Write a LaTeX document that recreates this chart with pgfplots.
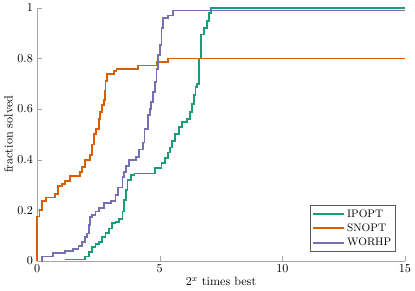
\documentclass[border=0pt]{standalone}
\usepackage{pgfplots}
\pgfplotsset{compat=1.18}
\definecolor{cIP}{HTML}{1B9E77}
\definecolor{cSN}{HTML}{D95F02}
\definecolor{cWO}{HTML}{7570B3}
\begin{document}
\begin{tikzpicture}
\begin{axis}[
  width=304pt, height=209pt, scale only axis,
  xmin=0, xmax=15, ymin=0, ymax=1,
  axis lines*=left,
  axis line style={gray!70},
  tick style={gray!70},
  tick align=inside,
  xtick={0,5,10,15}, ytick={0,0.2,0.4,0.6,0.8,1},
  xlabel={$2^x$ times best}, ylabel={fraction solved},
  xlabel style={yshift=3pt}, ylabel style={yshift=-3pt},
  clip=false,
  legend style={draw=gray!70!black, font=\small, inner sep=1.5pt, row sep=0pt, at={(0.975,0.035)}, anchor=south east},
  legend cell align=left,
  legend image code/.code={\draw[#1, line width=1.5pt] (0cm,0cm) -- (0.9cm,0cm);},
]
\addplot[cIP, const plot, line width=1.5pt] coordinates {
(1.13,0.005)(1.96,0.017)(2.1,0.035)(2.24,0.055)(2.38,0.068)(2.52,0.075)(2.65,0.095)(2.79,0.11)(2.93,0.128)(3.07,0.148)(3.2,0.155)(3.34,0.165)(3.48,0.195)(3.55,0.24)(3.62,0.28)(3.69,0.32)(3.83,0.34)(3.97,0.345)(4.8,0.368)(5.07,0.388)(5.21,0.408)(5.35,0.428)(5.42,0.448)(5.49,0.475)(5.63,0.50)(5.77,0.528)(5.9,0.548)(6.11,0.56)(6.25,0.588)(6.32,0.62)(6.39,0.655)(6.46,0.688)(6.53,0.70)(6.6,0.80)(6.67,0.895)(6.8,0.92)(6.94,0.948)(7.0,0.98)(7.08,1.0)(15,1.0)};
\addlegendentry{IPOPT}
\addplot[cSN, const plot, line width=1.5pt] coordinates {
(0,0)(0,0.175)(0.1,0.2)(0.19,0.235)(0.37,0.25)(0.72,0.265)(0.86,0.295)(1.0,0.305)(1.13,0.315)(1.34,0.335)(1.76,0.35)(1.82,0.37)(1.96,0.40)(2.17,0.42)(2.24,0.46)(2.32,0.50)(2.40,0.52)(2.52,0.56)(2.58,0.59)(2.63,0.615)(2.72,0.635)(2.76,0.67)(2.79,0.71)(2.86,0.74)(3.14,0.75)(3.24,0.76)(4.1,0.772)(4.9,0.785)(5.35,0.80)(15,0.80)};
\addlegendentry{SNOPT}
\addplot[cWO, const plot, line width=1.5pt] coordinates {
(0.14,0)(0.19,0.017)(0.65,0.03)(1.13,0.039)(1.48,0.048)(1.69,0.06)(1.82,0.075)(1.96,0.095)(2.03,0.108)(2.1,0.14)(2.17,0.172)(2.24,0.18)(2.38,0.195)(2.52,0.208)(2.72,0.228)(3.0,0.235)(3.2,0.26)(3.3,0.29)(3.48,0.33)(3.55,0.35)(3.62,0.376)(3.76,0.40)(4.04,0.41)(4.17,0.44)(4.31,0.468)(4.38,0.52)(4.52,0.575)(4.59,0.60)(4.66,0.628)(4.73,0.668)(4.8,0.708)(4.87,0.76)(4.94,0.815)(5.0,0.855)(5.07,0.92)(5.14,0.96)(5.35,0.97)(5.53,0.99)(15,0.99)};
\addlegendentry{WORHP}
\end{axis}
\end{tikzpicture}
\end{document}
